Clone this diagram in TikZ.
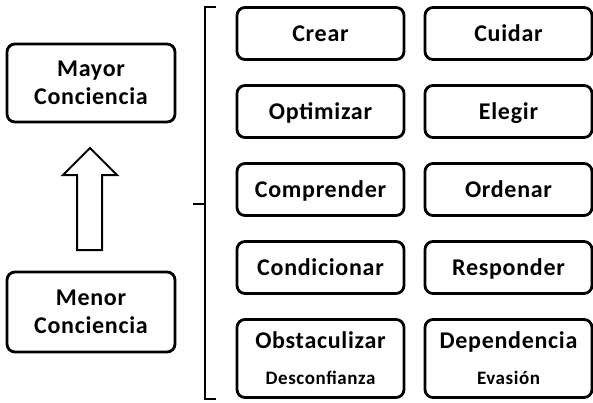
\documentclass[tikz,border=0pt]{standalone}
\usepackage{fontspec}
\setmainfont{Carlito}[LetterSpace=3]
\usetikzlibrary{positioning}

\newcommand{\grande}{\fontsize{24}{28}\selectfont\bfseries}
\newcommand{\chico}{\fontsize{19}{22}\selectfont\bfseries}

\begin{document}
\begin{tikzpicture}[
        x=1pt, y=-1pt,              % Unidades en puntos, y hacia abajo
        node distance=26pt and 21pt, % Distancia vertical y horizontal
        caja/.style={               % Estilo de las cajas redondeadas
            draw=black,
            line width=2.8pt,
            rounded corners=8pt,
            minimum width=167pt,
            minimum height=52pt,
            inner sep=0pt,
            outer sep=0pt,
            align=center,
            font=\grande
        },
        sola/.style={text height=15.5pt, text depth=0pt}, % Una sola palabra
        llave/.style={line width=2.8pt},   % Corchete
        flecha/.style={line width=2pt}     % Flecha de bloque
    ]

    \useasboundingbox (0,0) rectangle (593,402);

    % --- Columna izquierda ---
    \node[caja, minimum width=168pt, minimum height=78pt] (Mayor) at (91,83) {Mayor\\Conciencia};
    \node[caja, minimum width=168pt, minimum height=80pt] (Menor) at (91,312) {Menor\\Conciencia};

    % Flecha hacia arriba (de Menor a Mayor)
    \draw[flecha] (77,250) -- (77,175) -- (63,175) -- (90,148) -- (117,175)
        -- (102,175) -- (102,250) -- cycle;

    % --- Corchete ---
    \coordinate (Arriba) at (205,7);
    \coordinate (Abajo) at (205,399);
    \coordinate (Medio) at (205,204);
    \draw[llave] ([xshift=11pt]Arriba) -- (Arriba) -- (Abajo) -- ([xshift=11pt]Abajo);
    \draw[llave] (Medio) -- ([xshift=-12pt]Medio);

    % --- Columna de acciones ---
    \node[caja, sola] (Crear) at (320.5,33.5) {Crear};
    \node[caja, sola] (Cuidar) [right=of Crear] {Cuidar};

    \node[caja, sola] (Optimizar) [below=of Crear] {Optimizar};
    \node[caja, sola] (Elegir) [right=of Optimizar] {Elegir};

    \node[caja, sola] (Comprender) [below=of Optimizar] {Comprender};
    \node[caja, sola] (Ordenar) [right=of Comprender] {Ordenar};

    \node[caja, sola] (Condicionar) [below=of Comprender] {Condicionar};
    \node[caja, sola] (Responder) [right=of Condicionar] {Responder};

    \node[caja, minimum height=78pt] (Obstaculizar) [below=of Condicionar]
        {Obstaculizar\\[8pt]{\chico Desconfianza}};
    \node[caja, minimum height=78pt] (Dependencia) [right=of Obstaculizar]
        {Dependencia\\[8pt]{\chico Evasión}};

\end{tikzpicture}
\end{document}
